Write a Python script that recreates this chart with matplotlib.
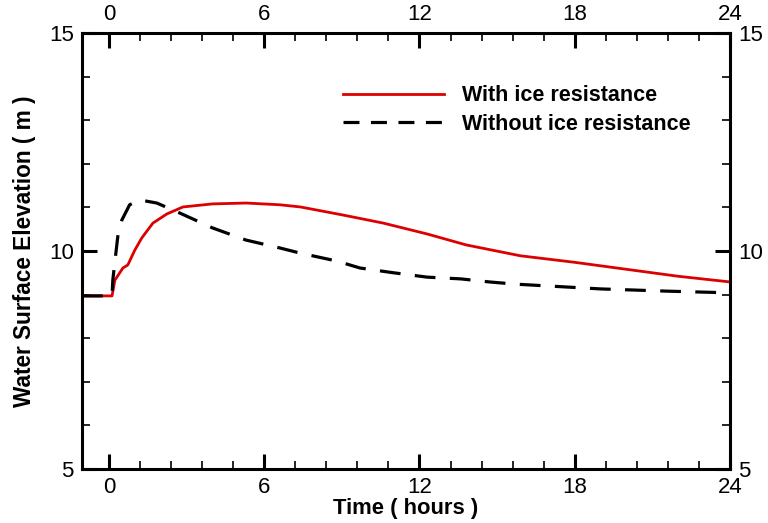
import matplotlib
matplotlib.use("Agg")
import matplotlib.pyplot as plt
from matplotlib.ticker import MultipleLocator

plt.rcParams["font.family"] = ["Liberation Sans", "DejaVu Sans"]

# Water surface elevation (m) versus time (hours)
t_ice = [-1.04, 0.12, 0.23, 0.54, 0.73, 1.0, 1.27, 1.7, 2.24, 2.86, 4.0,
         5.3, 6.6, 7.4, 9.0, 10.6, 12.3, 13.8, 15.9, 18.0, 20.0, 22.0, 24.0]
z_ice = [8.97, 8.97, 9.33, 9.61, 9.68, 10.02, 10.3, 10.64, 10.85, 11.01, 11.08,
         11.1, 11.06, 11.01, 10.83, 10.64, 10.39, 10.14, 9.89, 9.74, 9.58, 9.42, 9.29]

t_free = [-1.04, 0.12, 0.15, 0.25, 0.35, 0.5, 0.8, 1.2, 1.85, 2.74, 4.0,
          5.3, 6.6, 7.4, 8.8, 9.7, 11.0, 12.3, 13.6, 14.7, 15.7, 19.0, 21.5, 24.0]
z_free = [8.97, 8.97, 9.33, 9.86, 10.37, 10.71, 11.06, 11.17, 11.1, 10.87, 10.53,
          10.25, 10.07, 9.95, 9.77, 9.61, 9.5, 9.4, 9.36, 9.29, 9.24, 9.13, 9.08, 9.04]

fig = plt.figure(figsize=(7.68, 5.23), dpi=100)
ax = fig.add_axes([0.1068, 0.1033, 0.8437, 0.8336])

ax.plot(t_ice, z_ice, color="#dd0000", lw=2.0, label="With ice resistance")
ax.plot(t_free, z_free, color="black", lw=2.3, dashes=(6.5, 4.5),
        label="Without ice resistance")

ax.set_xlim(-1.04, 24)
ax.set_ylim(5, 15)
ax.xaxis.set_major_locator(MultipleLocator(6))
ax.xaxis.set_minor_locator(MultipleLocator(1.2))
ax.yaxis.set_major_locator(MultipleLocator(5))
ax.yaxis.set_minor_locator(MultipleLocator(1))

for s in ax.spines.values():
    s.set_linewidth(2.2)
ax.tick_params(which="both", direction="in", top=True, right=True,
               labeltop=True, labelright=True, labelsize=16)
ax.tick_params(axis="x", which="both", pad=5.5)
ax.tick_params(axis="y", which="both", pad=6)
ax.tick_params(which="major", length=11, width=2.2)
ax.tick_params(which="minor", length=6, width=1.2)

ax.set_xlabel("Time ( hours )", fontsize=15.8, fontweight="bold")
ax.set_ylabel("Water Surface Elevation ( m )", fontsize=16.3, fontweight="bold")
ax.xaxis.set_label_coords(0.5, -0.066)
ax.yaxis.set_label_coords(-0.071, 0.5)

leg = ax.legend(loc="upper left", bbox_to_anchor=(0.403, 0.880), frameon=False,
                borderpad=0, borderaxespad=0,
                handlelength=4.7, handletextpad=0.8, labelspacing=0.35,
                prop={"size": 15.5, "weight": "bold"})
leg.get_lines()[1].set_dashes((5.0, 3.6))

fig.savefig("out.png", dpi=100)
